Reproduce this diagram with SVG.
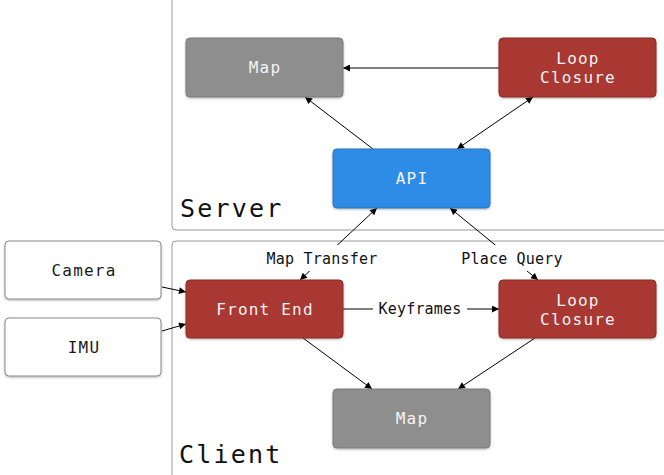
<svg xmlns="http://www.w3.org/2000/svg" width="664" height="475" viewBox="0 0 664 475">
  <style>
    .group { fill: #ffffff; stroke: #9a9a9a; stroke-width: 1; }
    .group-title { font-family: "DejaVu Sans Mono", monospace; font-size: 25px; letter-spacing: 2.2px; fill: #111; }
    .box { stroke-width: 1; filter: url(#shadow); }
    .map { fill: #8e8e8e; stroke: #7a7a7a; }
    .loop { fill: #a93832; stroke: #8c2c27; }
    .api { fill: #2d8ce6; stroke: #2a74bb; }
    .input { fill: #ffffff; stroke: #8a8a8a; }
    .label { font-family: "DejaVu Sans Mono", monospace; font-size: 16px; letter-spacing: 1.2px; text-anchor: middle; }
    .light { fill: #f4f4f4; }
    .dark { fill: #1a1a1a; }
    .edge { stroke: #000; stroke-width: 1; fill: none; }
    .edge-label { font-family: "DejaVu Sans Mono", monospace; font-size: 15px; letter-spacing: 0.2px; text-anchor: middle; fill: #111; }
  </style>
  <defs>
    <marker id="arrow" viewBox="0 0 10 10" refX="10" refY="5" markerWidth="9" markerHeight="7" markerUnits="userSpaceOnUse" orient="auto-start-reverse">
      <path d="M0,0 L10,5 L0,10 z" fill="#000"/>
    </marker>
    <filter id="shadow" x="-10%" y="-10%" width="120%" height="130%">
      <feDropShadow dx="0" dy="1" stdDeviation="0.8" flood-color="#000" flood-opacity="0.3"/>
    </filter>
  </defs>

  <rect width="664" height="475" fill="#ffffff"/>

  <!-- containers -->
  <g id="server">
    <rect class="group" x="172" y="-10" width="510" height="240" rx="4"/>
    <text class="group-title" x="180" y="217">Server</text>
  </g>
  <g id="client">
    <rect class="group" x="172" y="241" width="510" height="250" rx="4"/>
    <text class="group-title" x="179" y="463">Client</text>
  </g>

  <!-- connectors -->
  <g id="connectors">
    <line class="edge" x1="499" y1="68" x2="343" y2="68" marker-end="url(#arrow)"/>
    <line class="edge" x1="373" y1="149" x2="305" y2="97" marker-end="url(#arrow)"/>
    <line class="edge" x1="457" y1="149" x2="533" y2="97" marker-start="url(#arrow)" marker-end="url(#arrow)"/>
    <line class="edge" x1="300" y1="280" x2="377" y2="208" marker-start="url(#arrow)" marker-end="url(#arrow)"/>
    <line class="edge" x1="538" y1="280" x2="450" y2="208" marker-start="url(#arrow)" marker-end="url(#arrow)"/>
    <line class="edge" x1="162" y1="287" x2="186" y2="292" marker-end="url(#arrow)"/>
    <line class="edge" x1="162" y1="331" x2="186" y2="324" marker-end="url(#arrow)"/>
    <line class="edge" x1="343" y1="309" x2="499" y2="309" marker-end="url(#arrow)"/>
    <line class="edge" x1="303" y1="338" x2="372" y2="389" marker-end="url(#arrow)"/>
    <line class="edge" x1="535" y1="338" x2="458" y2="389" marker-end="url(#arrow)"/>
    <rect x="262" y="245" width="121" height="26" fill="#fff"/>
    <text class="edge-label" x="322" y="264">Map Transfer</text>
    <rect x="456" y="245" width="112" height="26" fill="#fff"/>
    <text class="edge-label" x="512" y="264">Place Query</text>
    <rect x="373" y="298" width="94" height="22" fill="#fff"/>
    <text class="edge-label" x="420" y="314">Keyframes</text>
  </g>

  <!-- server nodes -->
  <g id="server-map">
    <rect class="box map" x="186" y="38" width="157" height="59" rx="4"/>
    <text class="label light" x="265" y="73">Map</text>
  </g>
  <g id="server-loop-closure">
    <rect class="box loop" x="499" y="38" width="157" height="59" rx="4"/>
    <text class="label light" x="578" y="64">Loop</text>
    <text class="label light" x="578" y="83">Closure</text>
  </g>
  <g id="api">
    <rect class="box api" x="333" y="149" width="157" height="59" rx="4"/>
    <text class="label light" x="412" y="184">API</text>
  </g>

  <!-- sensors -->
  <g id="camera">
    <rect class="box input" x="5" y="241" width="156" height="58" rx="4"/>
    <text class="label dark" x="84" y="276">Camera</text>
  </g>
  <g id="imu">
    <rect class="box input" x="5" y="318" width="156" height="58" rx="4"/>
    <text class="label dark" x="84" y="353">IMU</text>
  </g>

  <!-- client nodes -->
  <g id="front-end">
    <rect class="box loop" x="186" y="280" width="157" height="58" rx="4"/>
    <text class="label light" x="265" y="315">Front End</text>
  </g>
  <g id="client-loop-closure">
    <rect class="box loop" x="499" y="280" width="157" height="58" rx="4"/>
    <text class="label light" x="578" y="306">Loop</text>
    <text class="label light" x="578" y="325">Closure</text>
  </g>
  <g id="client-map">
    <rect class="box map" x="333" y="389" width="157" height="59" rx="4"/>
    <text class="label light" x="412" y="424">Map</text>
  </g>
</svg>
